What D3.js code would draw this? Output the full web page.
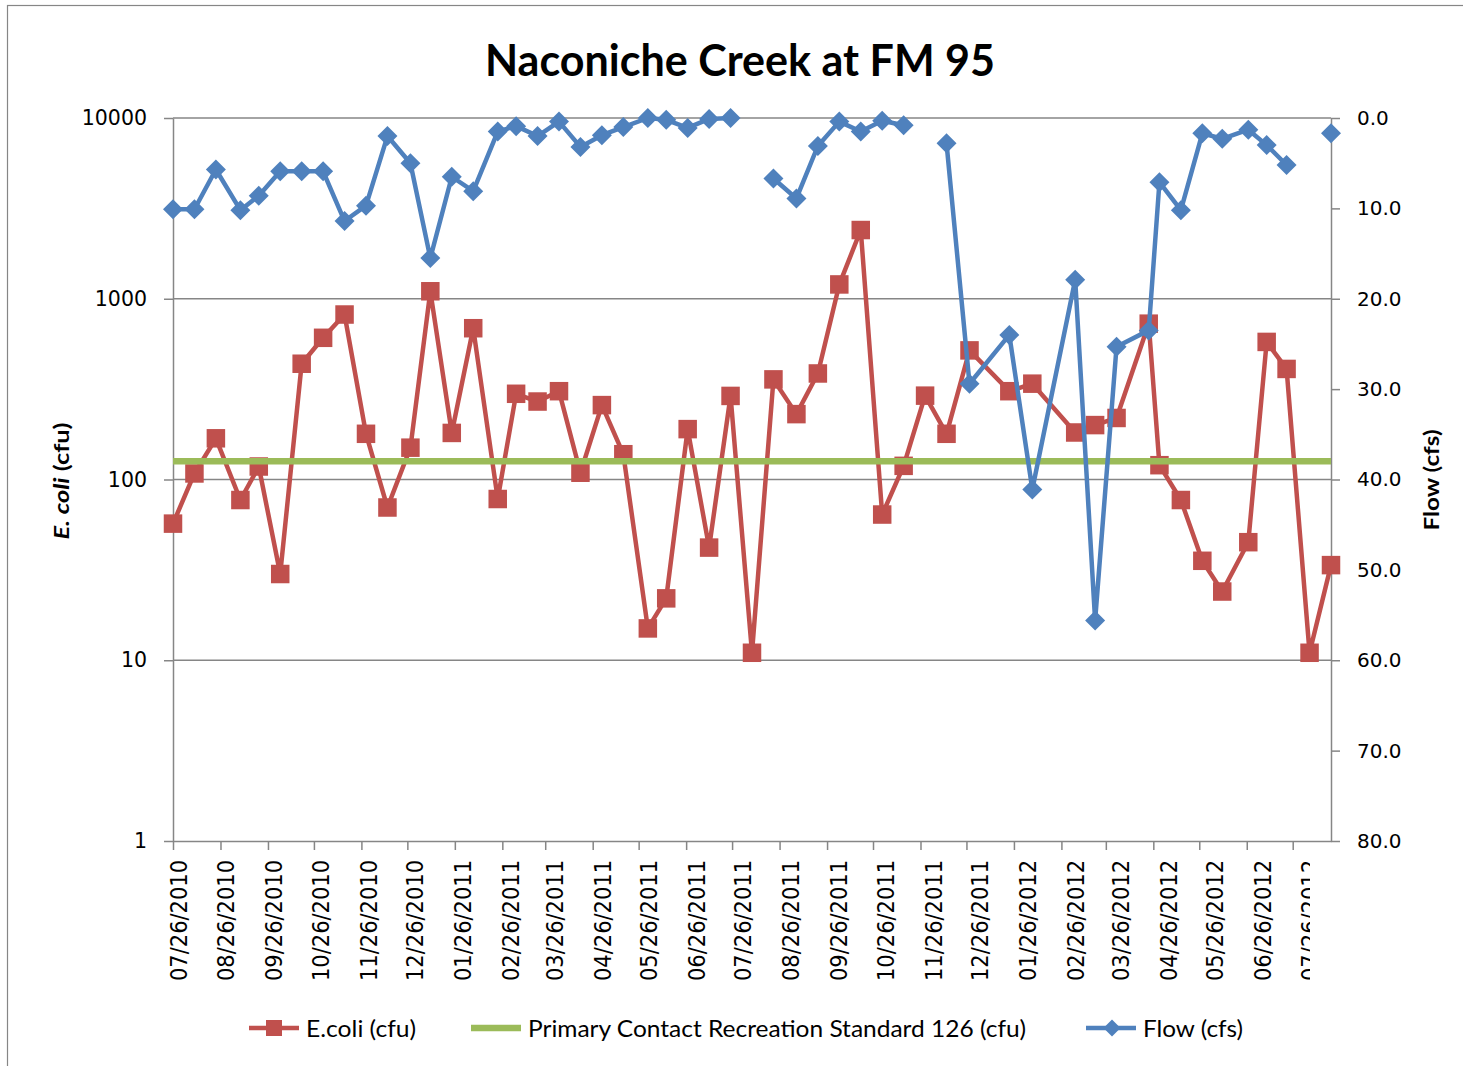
<!DOCTYPE html>
<html lang="en">
<head>
<meta charset="UTF-8">
<title>Naconiche Creek at FM 95</title>
<script src="https://d3js.org/d3.v7.min.js"></script>
<style>
    body { margin: 0; background: #fff; }
    svg { display: block; }
</style>
</head>
<body>
<svg id="chart" width="1463" height="1066"></svg>
<script>
// sampling dates (roughly every two weeks)
const sampleDates = [
    "2010-07-26", "2010-08-09", "2010-08-23", "2010-09-08", "2010-09-20", "2010-10-04",
    "2010-10-18", "2010-11-01", "2010-11-15", "2010-11-29", "2010-12-13", "2010-12-28",
    "2011-01-10", "2011-01-24", "2011-02-07", "2011-02-23", "2011-03-07", "2011-03-21",
    "2011-04-04", "2011-04-18", "2011-05-02", "2011-05-16", "2011-06-01", "2011-06-13",
    "2011-06-27", "2011-07-11", "2011-07-25", "2011-08-08", "2011-08-22", "2011-09-06",
    "2011-09-20", "2011-10-04", "2011-10-18", "2011-11-01", "2011-11-15", "2011-11-29",
    "2011-12-13", "2011-12-28", "2012-01-23", "2012-02-07", "2012-03-06", "2012-03-19",
    "2012-04-02", "2012-04-23", "2012-04-30", "2012-05-14", "2012-05-28", "2012-06-10",
    "2012-06-27", "2012-07-09", "2012-07-22", "2012-08-06", "2012-08-20"
];
const ecoli = [
    57, 108, 169, 77, 118, 30, 437, 608, 818, 179,
    70, 150, 1100, 181, 687, 78, 298, 270, 308, 109,
    258, 138, 15, 22, 190, 42, 290, 11, 358, 230,
    386, 1200, 2400, 64, 119, 291, 179, 518, 308, 339,
    182, 200, 219, 728, 120, 77, 35.5, 24, 45, 577,
    409, 11, 33.6
];
const flow = [
    10.1, 10.1, 5.7, 10.2, 8.6, 5.9, 5.9, 5.9, 11.4, 9.7,
    2.0, 5.0, 15.5, 6.5, 8.1, 1.5, 0.9, 2.0, 0.4, 3.2,
    1.9, 1.0, 0.0, 0.2, 1.1, 0.1, 0.0, null, 6.7, 8.9,
    3.1, 0.4, 1.5, 0.3, 0.8, null, 2.8, 29.4, 24.0, 41.1,
    17.9, 55.6, 25.3, 23.5, 7.1, 10.2, 1.7, 2.3, 1.3, 3.0,
    5.2, null, 1.7
];
const standard = 126;
const xTickLabels = [
    "07/26/2010", "08/26/2010", "09/26/2010", "10/26/2010", "11/26/2010", "12/26/2010",
    "01/26/2011", "02/26/2011", "03/26/2011", "04/26/2011", "05/26/2011", "06/26/2011",
    "07/26/2011", "08/26/2011", "09/26/2011", "10/26/2011", "11/26/2011", "12/26/2011",
    "01/26/2012", "02/26/2012", "03/26/2012", "04/26/2012", "05/26/2012", "06/26/2012",
    "07/26/2012"
];
const ecoliTicks = [1, 10, 100, 1000, 10000];
const flowTicks = [0, 10, 20, 30, 40, 50, 60, 70, 80];

const parseDate = d3.utcParse("%Y-%m-%d");
const parseTick = d3.utcParse("%m/%d/%Y");
const rows = sampleDates.map((d, i) => ({ date: parseDate(d), ecoli: ecoli[i], flow: flow[i] }));

const red = "#C0504D", blue = "#4F81BD", green = "#9BBB59", grey = "#868686";
const calibri = "Lato, 'Open Sans', sans-serif";
const verdana = "'DejaVu Sans', Verdana, sans-serif";

const svg = d3.select("#chart");
const plotLeft = 173, plotRight = 1331, plotTop = 118, plotBottom = 841;

const x = d3.scaleUtc().domain(d3.extent(rows, d => d.date)).range([plotLeft, plotRight]);
// Excel drifts the rotated labels slightly to the right of their ticks
const xLab = d3.scaleUtc().domain(x.domain()).range([177.5, 1347.5]);
const y = d3.scaleLog().domain([1, 10000]).range([plotBottom, plotTop]);
const y2 = d3.scaleLinear().domain([80, 0]).range([plotBottom, plotTop]);

// chart frame
svg.append("rect")
    .attr("x", 7.5).attr("y", 5.5)
    .attr("width", 1500).attr("height", 1100)
    .attr("fill", "#fff").attr("stroke", grey).attr("stroke-width", 1.2);

// title
svg.append("text")
    .attr("x", 740).attr("y", 76)
    .attr("text-anchor", "middle")
    .attr("font-family", calibri).attr("font-weight", 700).attr("font-size", 44)
    .attr("textLength", 510).attr("lengthAdjust", "spacingAndGlyphs")
    .text("Naconiche Creek at FM 95");

// horizontal gridlines
svg.append("g").selectAll("line")
    .data(ecoliTicks.slice(1))
    .join("line")
    .attr("x1", plotLeft).attr("x2", plotRight)
    .attr("y1", d => y(d)).attr("y2", d => y(d))
    .attr("stroke", grey).attr("stroke-width", 1.5);

function styleAxis(g, size) {
    g.select(".domain").attr("stroke", grey).attr("stroke-width", 1.5);
    g.selectAll(".tick line").attr("stroke", grey).attr("stroke-width", 1.5);
    g.selectAll(".tick text").attr("fill", "#000")
        .attr("font-family", verdana).attr("font-size", size);
}

svg.append("g")
    .attr("transform", `translate(${plotLeft},0)`)
    .call(d3.axisLeft(y).tickValues(ecoliTicks).tickFormat(d3.format("d"))
        .tickSize(9).tickSizeOuter(0).tickPadding(17))
    .call(g => styleAxis(g, 20.5));

svg.append("g")
    .attr("transform", `translate(${plotRight},0)`)
    .call(d3.axisRight(y2).tickValues(flowTicks).tickFormat(d3.format(".1f"))
        .tickSize(9).tickSizeOuter(0).tickPadding(17))
    .call(g => styleAxis(g, 20));

const tickDates = xTickLabels.map(parseTick);
svg.append("g")
    .attr("transform", `translate(0,${plotBottom})`)
    .call(d3.axisBottom(x).tickValues(tickDates).tickFormat(() => "")
        .tickSize(9).tickSizeOuter(0))
    .call(g => styleAxis(g, 20));

// rotated date labels, last one is cut off like in the original
svg.append("clipPath").attr("id", "labelClip")
    .append("rect").attr("x", 0).attr("y", 850).attr("width", 1310).attr("height", 200);

svg.append("g")
    .attr("clip-path", "url(#labelClip)")
    .selectAll("text")
    .data(xTickLabels)
    .join("text")
    .attr("transform", d => `translate(${xLab(parseTick(d)) + 9},860) rotate(-90)`)
    .attr("text-anchor", "end")
    .attr("font-family", "'DejaVu Sans Condensed', 'DejaVu Sans', sans-serif")
    .attr("font-stretch", "condensed")
    .attr("font-size", 23.5)
    .attr("textLength", 121).attr("lengthAdjust", "spacingAndGlyphs")
    .text(d => d);

// axis titles
const leftTitle = svg.append("text")
    .attr("transform", "translate(69,481) rotate(-90)")
    .attr("text-anchor", "middle")
    .attr("font-family", calibri).attr("font-weight", 700).attr("font-size", 20)
    .attr("textLength", 117).attr("lengthAdjust", "spacingAndGlyphs");
leftTitle.append("tspan").attr("font-style", "italic").text("E. coli");
leftTitle.append("tspan").text(" (cfu)");

svg.append("text")
    .attr("transform", "translate(1439,480) rotate(-90)")
    .attr("text-anchor", "middle")
    .attr("font-family", calibri).attr("font-weight", 700).attr("font-size", 20)
    .attr("textLength", 101).attr("lengthAdjust", "spacingAndGlyphs")
    .text("Flow (cfs)");

const diamond = r => `M0,${-r}L${r},0L0,${r}L${-r},0Z`;

// E. coli series
svg.append("path")
    .datum(rows)
    .attr("fill", "none")
    .attr("stroke", red).attr("stroke-width", 4.5).attr("stroke-linejoin", "round")
    .attr("d", d3.line().x(d => x(d.date)).y(d => y(d.ecoli)));

svg.append("g").selectAll("rect")
    .data(rows)
    .join("rect")
    .attr("x", d => x(d.date) - 9.25).attr("y", d => y(d.ecoli) - 9.25)
    .attr("width", 18.5).attr("height", 18.5)
    .attr("fill", red);

// primary contact recreation standard
svg.append("line")
    .attr("x1", x(x.domain()[0])).attr("x2", x(x.domain()[1]))
    .attr("y1", y(standard)).attr("y2", y(standard))
    .attr("stroke", green).attr("stroke-width", 6.5);

// flow series (secondary, inverted axis)
svg.append("path")
    .datum(rows)
    .attr("fill", "none")
    .attr("stroke", blue).attr("stroke-width", 4.5).attr("stroke-linejoin", "round")
    .attr("d", d3.line().defined(d => d.flow != null).x(d => x(d.date)).y(d => y2(d.flow)));

svg.append("g").selectAll("path")
    .data(rows.filter(d => d.flow != null))
    .join("path")
    .attr("transform", d => `translate(${x(d.date)},${y2(d.flow)})`)
    .attr("d", diamond(10))
    .attr("fill", blue);

// legend
const legendItems = [
    { label: "E.coli (cfu)", color: red, marker: "square", x: 249, width: 110 },
    { label: "Primary Contact Recreation Standard 126 (cfu)", color: green, marker: null, x: 471, width: 498 },
    { label: "Flow (cfs)", color: blue, marker: "diamond", x: 1086, width: 100 }
];
const legend = svg.append("g");
legendItems.forEach(item => {
    const g = legend.append("g").attr("transform", `translate(${item.x},1028)`);
    g.append("line")
        .attr("x1", 0).attr("x2", 50)
        .attr("stroke", item.color).attr("stroke-width", item.marker ? 4.5 : 6.5);
    if (item.marker === "square") {
        g.append("rect").attr("x", 17).attr("y", -8).attr("width", 16).attr("height", 16)
            .attr("fill", item.color);
    } else if (item.marker === "diamond") {
        g.append("path").attr("transform", "translate(26,0)").attr("d", diamond(8.5))
            .attr("fill", item.color);
    }
    g.append("text")
        .attr("x", 57).attr("y", 9)
        .attr("font-family", calibri).attr("font-size", 24)
        .attr("textLength", item.width).attr("lengthAdjust", "spacingAndGlyphs")
        .text(item.label);
});
</script>
</body>
</html>
